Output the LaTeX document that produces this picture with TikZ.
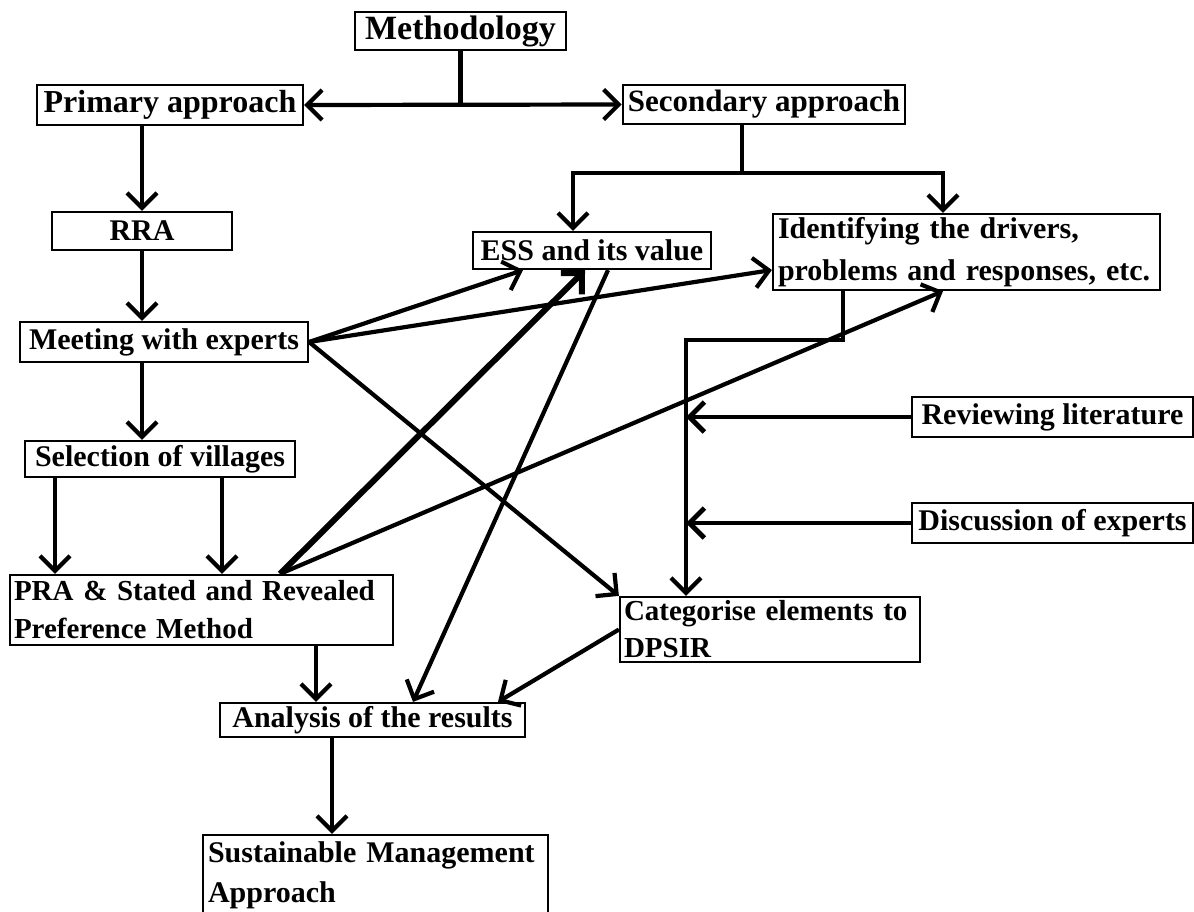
\documentclass[tikz,border=0pt]{standalone}
\usepackage{fontspec}
\setmainfont{Liberation Serif}
\usetikzlibrary{arrows.meta}
\begin{document}
\begin{tikzpicture}[x=0.5pt,y=-0.5pt,
  box/.style={draw,line width=1.1pt,inner xsep=2.5pt,inner ysep=0pt,
    font=\fontsize{15}{18}\selectfont\bfseries},
  twoline/.style n args={3}{align=left,text width=#1,
    font=\fontsize{#2}{#3}\selectfont\bfseries},
  tip/.tip={Straight Barb[length=7.5pt,width=15pt]},
  link/.style={line width=2.1pt,line join=miter},
  arrow/.style={link,-tip},
  heavy/.style={line width=3pt,-tip}]
\useasboundingbox (0,0) rectangle (1194,911);

% boxes
\node[box,minimum width=105.5pt,minimum height=19pt,font=\fontsize{17}{20}\selectfont\bfseries]
  (meth) at (460.5,31) {Methodology};
\node[box,minimum width=133pt,minimum height=20pt,font=\fontsize{16}{18}\selectfont\bfseries]
  (prim) at (170,105) {Primary approach};
\node[box,minimum width=140pt,minimum height=19.5pt,font=\fontsize{15.5}{18}\selectfont\bfseries]
  (sec) at (764,104.5) {Secondary approach};
\node[box,minimum width=90pt,minimum height=19pt] (rra) at (142,231) {RRA};
\node[box,minimum width=119pt,minimum height=18.5pt] (ess) at (592,250.5) {ESS and its value};
\node[box,minimum width=193.5pt,minimum height=38pt,twoline={188.5pt}{15}{21}] (iden) at (966.5,252)
  {\mbox{Identifying the drivers,}\\\mbox{problems and responses, etc.}};
\node[box,minimum width=144pt,minimum height=20pt] (meet) at (164,342) {Meeting with experts};
\node[box,minimum width=140.5pt,minimum height=20pt] (rev) at (1052.5,417) {Reviewing literature};
\node[box,minimum width=135pt,minimum height=18pt] (sel) at (160,459) {Selection of villages};
\node[box,minimum width=140.5pt,minimum height=20pt] (disc) at (1052.5,523) {Discussion of experts};
\node[box,minimum width=191.5pt,minimum height=35pt,inner xsep=2pt,twoline={187.5pt}{14.5}{19}]
  (pra) at (201.5,610)
  {\mbox{PRA \& Stated and Revealed}\\\mbox{Preference Method}};
\node[box,minimum width=150pt,minimum height=32.5pt,inner xsep=2pt,twoline={146pt}{14.5}{18.5}]
  (cat) at (770,629.5)
  {\mbox{Categorise elements to}\\\mbox{DPSIR}};
\node[box,minimum width=152.5pt,minimum height=17pt] (ana) at (372.5,720) {Analysis of the results};
\node[box,minimum width=172.5pt,minimum height=40pt,twoline={167.5pt}{15}{20}] (sus) at (375.5,875)
  {\mbox{Sustainable Management}\\\mbox{Approach}};

% junction points
\coordinate (mj) at (meth.south |- prim.east);
\coordinate (sj) at (742,173);
\coordinate (essin) at (573,173);
\coordinate (idin) at (943,173);
\coordinate (idout) at (843,340);
\coordinate (cj) at (686,340);

% top split
\draw[link] (meth.south) -- (mj);
\draw[link,tip-tip] (prim.east) -- (sec.west);
\draw[link] (742,0 |- sec.south) -- (sj);
\draw[arrow] (sj) -- (essin) -- (essin |- ess.north);
\draw[arrow] (sj) -- (idin) -- (idin |- iden.north);

% primary chain
\draw[arrow] (prim.south -| rra.north) -- (rra.north);
\draw[arrow] (rra.south) -- (rra.south |- meet.north);
\draw[arrow] (meet.south -| rra.south) -- (rra.south |- sel.north);
\draw[arrow] (55,0 |- sel.south) -- (55,0 |- pra.north);
\draw[arrow] (222,0 |- sel.south) -- (222,0 |- pra.north);
\draw[arrow] (316,0 |- pra.south) -- (316,0 |- ana.north);
\draw[arrow] (332,0 |- ana.south) -- (332,0 |- sus.north);

% links from the expert meeting
\draw[arrow] (meet.east) -- (523,0 |- ess.south);
\draw[arrow] (meet.east) -- (iden.west |- 0,270);
\draw[arrow] (meet.east) -- (cat.north west);

% links from the PRA box
\draw[heavy] (280,0 |- pra.north) -- (585,0 |- ess.south);
\draw[arrow] (280,0 |- pra.north) -- (943,0 |- iden.south);

% towards the analysis
\draw[arrow] (608,0 |- ess.south) -- (413,0 |- ana.north);
\draw[arrow] (cat.west) -- (498,0 |- ana.north);

% DPSIR inputs
\draw[arrow] (843,0 |- iden.south) -- (idout) -- (cj) -- (cj |- cat.north);
\draw[arrow,line width=2.4pt] (rev.west) -- (cj |- rev.west);
\draw[arrow,line width=2.4pt] (disc.west) -- (cj |- disc.west);
\end{tikzpicture}
\end{document}
